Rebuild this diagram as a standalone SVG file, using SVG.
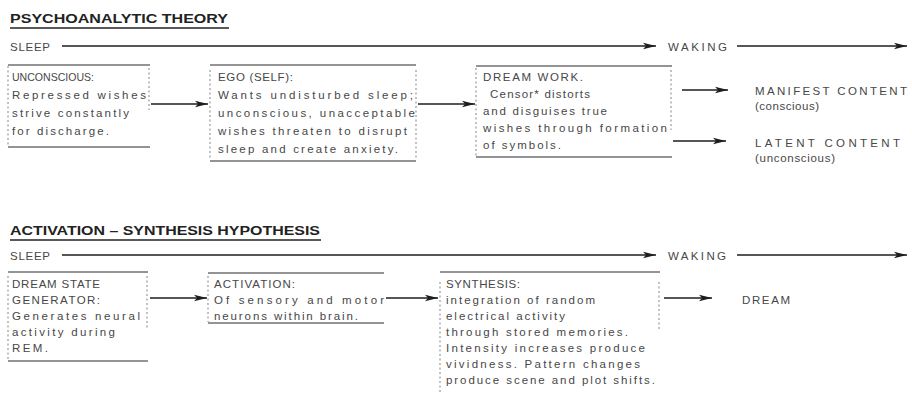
<svg xmlns="http://www.w3.org/2000/svg" width="912" height="413" viewBox="0 0 912 413">
<style>
.t{font-family:"Liberation Sans",Arial,sans-serif;font-size:11.5px;fill:#474747}
.h{font-family:"Liberation Sans",Arial,sans-serif;font-size:12.5px;font-weight:bold;fill:#222}
.u{stroke:#222;stroke-width:1.3}
.edge{stroke:#1e1e1e;stroke-width:1.3;fill:none}
.solid{stroke:#2a2a2a;stroke-width:1.2;fill:none}
.dash{stroke:#777;stroke-width:0.9;stroke-dasharray:2 2.5;fill:none}
</style>
<defs>
<marker id="ah" markerWidth="14" markerHeight="8" refX="13" refY="4" orient="auto" markerUnits="userSpaceOnUse">
<path d="M0,0.8 L13,4 L0,7.2 L3,4 Z" fill="#1e1e1e"/>
</marker>
</defs>
<rect width="912" height="413" fill="#fff"/>

<g id="title1">
<text class="h" x="10" y="23" textLength="218" lengthAdjust="spacingAndGlyphs">PSYCHOANALYTIC THEORY</text>
<line class="u" x1="10" y1="28" x2="229" y2="28"/>
</g>
<g id="sleep1"><text class="t" x="10" y="51" textLength="40" lengthAdjust="spacing">SLEEP</text></g>
<g id="waking1"><text class="t" x="668" y="51" textLength="59" lengthAdjust="spacing">WAKING</text></g>

<g id="unconscious">
<line class="solid" x1="8" y1="65" x2="150" y2="65"/>
<line class="solid" x1="8" y1="147" x2="150" y2="147"/>
<line class="dash" x1="8" y1="66" x2="8" y2="146"/>
<line class="dash" x1="149" y1="68" x2="149" y2="110"/>
<text class="t" x="12" y="81" textLength="82" lengthAdjust="spacingAndGlyphs">UNCONSCIOUS:</text>
<text class="t" x="12" y="99" textLength="134" lengthAdjust="spacing">Repressed wishes</text>
<text class="t" x="12" y="117" textLength="117" lengthAdjust="spacing">strive constantly</text>
<text class="t" x="12" y="135" textLength="97" lengthAdjust="spacing">for discharge.</text>
</g>

<g id="ego">
<line class="solid" x1="210" y1="65" x2="416" y2="65"/>
<line class="solid" x1="210" y1="161" x2="416" y2="161"/>
<line class="dash" x1="210" y1="70" x2="210" y2="160"/>
<line class="dash" x1="416" y1="70" x2="416" y2="160"/>
<text class="t" x="218" y="81" textLength="75" lengthAdjust="spacing">EGO (SELF):</text>
<text class="t" x="218" y="99" textLength="195" lengthAdjust="spacing">Wants undisturbed sleep;</text>
<text class="t" x="218" y="117" textLength="197" lengthAdjust="spacing">unconscious, unacceptable</text>
<text class="t" x="218" y="135" textLength="189" lengthAdjust="spacing">wishes threaten to disrupt</text>
<text class="t" x="218" y="153" textLength="180" lengthAdjust="spacing">sleep and create anxiety.</text>
</g>

<g id="dreamwork">
<line class="solid" x1="476" y1="66" x2="672" y2="66"/>
<line class="solid" x1="476" y1="157" x2="672" y2="157"/>
<line class="dash" x1="476" y1="68" x2="476" y2="156"/>
<line class="dash" x1="671" y1="70" x2="671" y2="130"/>
<text class="t" x="483" y="81" textLength="100" lengthAdjust="spacing">DREAM WORK.</text>
<text class="t" x="490" y="98" textLength="100" lengthAdjust="spacing">Censor* distorts</text>
<text class="t" x="483" y="115" textLength="124" lengthAdjust="spacing">and disguises true</text>
<text class="t" x="483" y="132" textLength="184" lengthAdjust="spacing">wishes through formation</text>
<text class="t" x="483" y="149" textLength="78" lengthAdjust="spacing">of symbols.</text>
</g>

<g id="manifest">
<text class="t" x="755" y="95" textLength="152" lengthAdjust="spacing">MANIFEST CONTENT</text>
<text class="t" x="755" y="110" textLength="64" lengthAdjust="spacing">(conscious)</text>
</g>
<g id="latent">
<text class="t" x="755" y="147" textLength="145" lengthAdjust="spacing">LATENT CONTENT</text>
<text class="t" x="755" y="162" textLength="80" lengthAdjust="spacing">(unconscious)</text>
</g>

<g id="title2">
<text class="h" x="10" y="235" textLength="310" lengthAdjust="spacingAndGlyphs">ACTIVATION – SYNTHESIS HYPOTHESIS</text>
<line class="u" x1="10" y1="240" x2="321" y2="240"/>
</g>
<g id="sleep2"><text class="t" x="10" y="260" textLength="40" lengthAdjust="spacing">SLEEP</text></g>
<g id="waking2"><text class="t" x="668" y="260" textLength="58" lengthAdjust="spacing">WAKING</text></g>

<g id="generator">
<line class="solid" x1="8" y1="272" x2="148" y2="272"/>
<line class="solid" x1="8" y1="361" x2="148" y2="361"/>
<line class="dash" x1="8" y1="276" x2="8" y2="360"/>
<line class="dash" x1="147" y1="276" x2="147" y2="330"/>
<text class="t" x="12" y="288" textLength="88" lengthAdjust="spacing">DREAM STATE</text>
<text class="t" x="12" y="304" textLength="88" lengthAdjust="spacing">GENERATOR:</text>
<text class="t" x="12" y="320" textLength="128" lengthAdjust="spacing">Generates neural</text>
<text class="t" x="12" y="336" textLength="103" lengthAdjust="spacing">activity during</text>
<text class="t" x="12" y="352" textLength="36" lengthAdjust="spacing">REM.</text>
</g>

<g id="activation">
<line class="solid" x1="208" y1="273" x2="384" y2="273"/>
<line class="solid" x1="208" y1="323" x2="384" y2="323"/>
<line class="dash" x1="208" y1="276" x2="208" y2="322"/>
<text class="t" x="214" y="288" textLength="81" lengthAdjust="spacing">ACTIVATION:</text>
<text class="t" x="214" y="304" textLength="170" lengthAdjust="spacing">Of sensory and motor</text>
<text class="t" x="214" y="320" textLength="144" lengthAdjust="spacing">neurons within brain.</text>
</g>

<g id="synthesis">
<line class="solid" x1="440" y1="272" x2="660" y2="272"/>
<line class="dash" x1="440" y1="282" x2="440" y2="392"/>
<line class="dash" x1="659" y1="282" x2="659" y2="330"/>
<text class="t" x="446" y="288" textLength="74" lengthAdjust="spacing">SYNTHESIS:</text>
<text class="t" x="446" y="304" textLength="149" lengthAdjust="spacing">integration of random</text>
<text class="t" x="446" y="320" textLength="119" lengthAdjust="spacing">electrical activity</text>
<text class="t" x="446" y="336" textLength="182" lengthAdjust="spacing">through stored memories.</text>
<text class="t" x="446" y="352" textLength="199" lengthAdjust="spacing">Intensity increases produce</text>
<text class="t" x="446" y="368" textLength="194" lengthAdjust="spacing">vividness. Pattern changes</text>
<text class="t" x="446" y="384" textLength="209" lengthAdjust="spacing">produce scene and plot shifts.</text>
</g>

<g id="dream"><text class="t" x="742" y="304" textLength="48" lengthAdjust="spacing">DREAM</text></g>

<g id="connectors">
<line class="edge" x1="62" y1="46" x2="656" y2="46" marker-end="url(#ah)"/>
<line class="edge" x1="737" y1="46" x2="907" y2="46" marker-end="url(#ah)"/>
<line class="edge" x1="151" y1="104" x2="208" y2="104" marker-end="url(#ah)"/>
<line class="edge" x1="418" y1="104" x2="475" y2="104" marker-end="url(#ah)"/>
<line class="edge" x1="682" y1="90" x2="728" y2="90" marker-end="url(#ah)"/>
<line class="edge" x1="673" y1="141" x2="726" y2="141" marker-end="url(#ah)"/>
<line class="edge" x1="62" y1="255" x2="656" y2="255" marker-end="url(#ah)"/>
<line class="edge" x1="737" y1="255" x2="907" y2="255" marker-end="url(#ah)"/>
<line class="edge" x1="150" y1="298" x2="207" y2="298" marker-end="url(#ah)"/>
<line class="edge" x1="386" y1="298" x2="438" y2="298" marker-end="url(#ah)"/>
<line class="edge" x1="664" y1="298" x2="712" y2="298" marker-end="url(#ah)"/>
</g>
</svg>
